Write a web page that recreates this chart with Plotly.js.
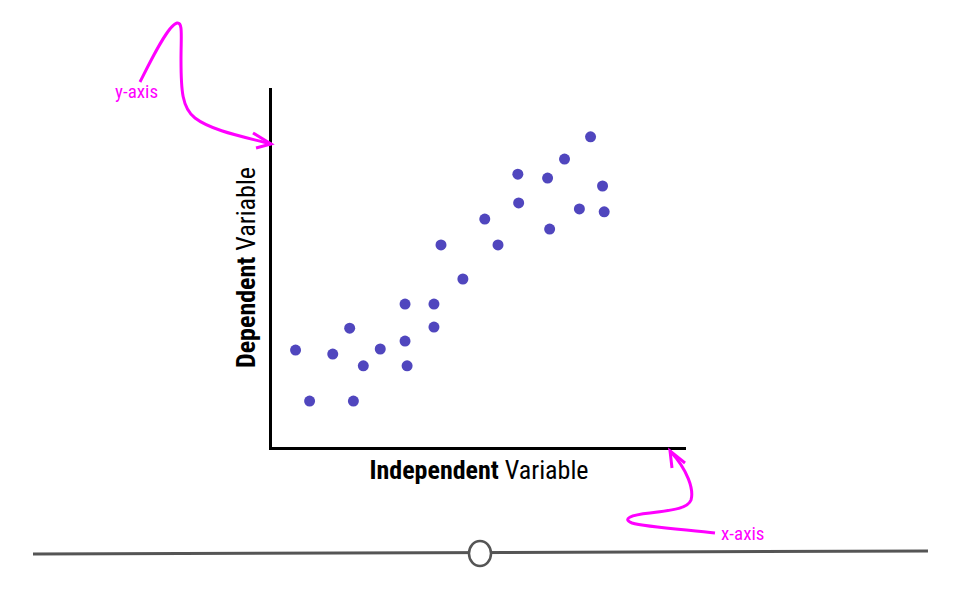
<!DOCTYPE html>
<html>
<head>
<meta charset="utf-8">
<script src="https://cdn.plot.ly/plotly-3.0.1.min.js"></script>
<style>html,body{margin:0;padding:0;background:#fff;}#chart{width:960px;height:600px;}</style>
</head>
<body>
<div id="chart"></div>
<script>
// Data (arbitrary units, 0-10 scale)
const independentValues = [7.69, 7.06, 5.93, 6.65, 7.98, 5.95, 7.42, 8.02, 5.13, 6.70, 4.07, 5.45, 4.60, 3.20, 3.90, 1.86, 3.90, 0.55, 1.45, 2.60, 3.20, 2.19, 3.25, 0.89, 1.95];
const dependentValues   = [8.64, 8.02, 7.60, 7.49, 7.27, 6.80, 6.63, 6.55, 6.35, 6.07, 5.63, 5.63, 4.68, 3.98, 3.98, 3.31, 3.34, 2.70, 2.59, 2.73, 2.95, 2.26, 2.26, 1.28, 1.28];
const xAxisTitle = "<b>Independent</b> Variable";
const yAxisTitle = "<b>Dependent</b> Variable";
const calloutLabels = ["y-axis", "x-axis"];

const FONT = "Roboto Condensed, Liberation Sans Narrow, Arial Narrow, Roboto, sans-serif";
const MAGENTA = "#ff00ff";

// plot-area geometry (pixels) used to place decorations in paper coordinates
const L = 272, R = 686, T = 88, B = 447;
const toPX = X => ((X - L) / (R - L)).toFixed(4);
const toPY = Y => ((B - Y) / (B - T)).toFixed(4);
const pathPx = s => s.replace(/(-?\d+\.?\d*),(-?\d+\.?\d*)/g, (m, a, b) => toPX(+a) + ',' + toPY(+b));

const trace = {
  type: 'scatter', mode: 'markers',
  x: independentValues, y: dependentValues,
  marker: {color: '#5046be', size: 11},
  cliponaxis: false,
  hoverinfo: 'x+y'
};

const shapes = [
  // y-axis callout curve + head
  {type: 'path', xref: 'paper', yref: 'paper', layer: 'above',
   path: pathPx('M140,82 C150,62 168,25 177,23 C183,22 181,35 181,60 C181,90 182,108 195,118 C212,131 245,137 271,144'),
   line: {color: MAGENTA, width: 3}},
  {type: 'path', xref: 'paper', yref: 'paper', layer: 'above',
   path: pathPx('M253,133 L271,144 L256,148'),
   line: {color: MAGENTA, width: 3}},
  // x-axis callout curve + head
  {type: 'path', xref: 'paper', yref: 'paper', layer: 'above',
   path: pathPx('M715,533 C690,530 645,527 632,523 C622,519 630,515 650,513 C675,510 688,508 691,500 C694,490 688,470 670,451'),
   line: {color: MAGENTA, width: 3}},
  {type: 'path', xref: 'paper', yref: 'paper', layer: 'above',
   path: pathPx('M672,468 L670,451 L685,463'),
   line: {color: MAGENTA, width: 3}},
  // bottom slider track
  {type: 'line', xref: 'paper', yref: 'paper',
   x0: toPX(33), y0: toPY(554), x1: toPX(928), y1: toPY(551),
   line: {color: '#555555', width: 3}},
  // slider knob
  {type: 'circle', xref: 'paper', yref: 'paper', fillcolor: '#ffffff',
   x0: toPX(469), x1: toPX(491), y0: toPY(566), y1: toPY(541),
   line: {color: '#555555', width: 2.5}}
];

const annotations = [
  {text: calloutLabels[0], xref: 'paper', yref: 'paper', x: toPX(136), y: toPY(91),
   xanchor: 'center', yanchor: 'middle',
   showarrow: false, font: {family: FONT, size: 19, color: MAGENTA}},
  {text: calloutLabels[1], xref: 'paper', yref: 'paper', x: toPX(743), y: toPY(534),
   xanchor: 'center', yanchor: 'middle',
   showarrow: false, font: {family: FONT, size: 19, color: MAGENTA}}
];

const layout = {
  width: 960, height: 600,
  margin: {l: L, r: 960 - R, t: T, b: 600 - B},
  paper_bgcolor: '#ffffff', plot_bgcolor: '#ffffff',
  showlegend: false,
  font: {family: FONT, color: '#000000'},
  xaxis: {range: [-0.02, 10], showgrid: false, zeroline: false, showticklabels: false, ticks: '',
          showline: true, linecolor: '#000000', linewidth: 3,
          title: {text: xAxisTitle, font: {family: FONT, size: 26, color: '#000'}, standoff: 12}},
  yaxis: {range: [0, 10], showgrid: false, zeroline: false, showticklabels: false, ticks: '',
          showline: true, linecolor: '#000000', linewidth: 3,
          title: {text: yAxisTitle, font: {family: FONT, size: 26, color: '#000'}, standoff: 6}},
  shapes: shapes,
  annotations: annotations
};

Plotly.newPlot('chart', [trace], layout, {displayModeBar: false, staticPlot: true});
</script>
</body>
</html>
